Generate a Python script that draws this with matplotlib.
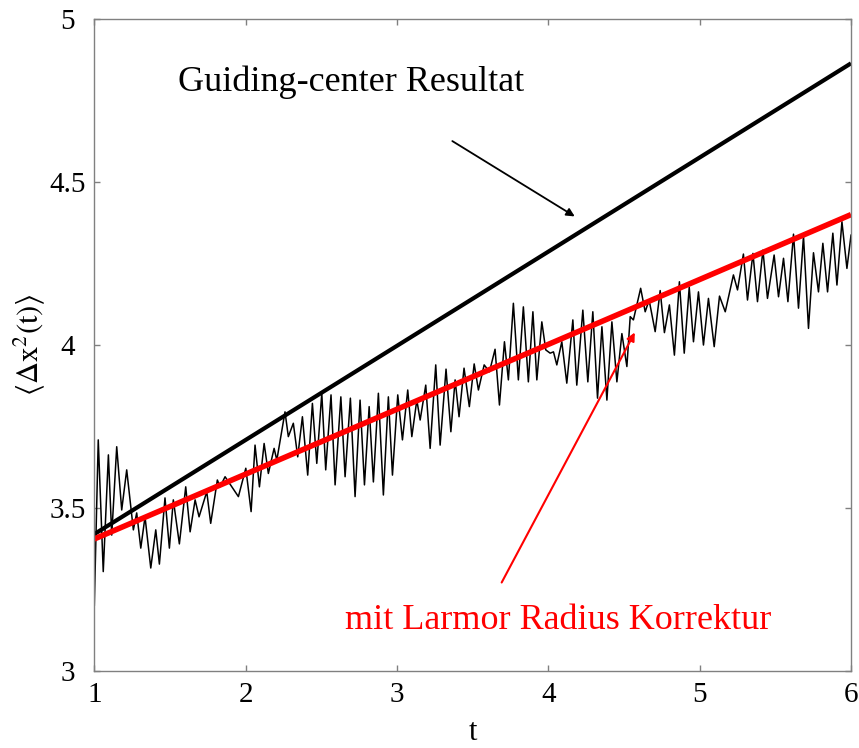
import matplotlib
matplotlib.use("Agg")
import matplotlib.pyplot as plt

# straight-line fits (end points)
t_fit = [1.0, 6.0]
gc_fit = [3.42, 4.864]       # guiding-center result
larmor_fit = [3.405, 4.40]   # with Larmor radius correction

# simulated <dx^2(t)>, local extrema
t_sim = [1.000, 1.026, 1.059, 1.093, 1.115, 1.148, 1.181, 1.214, 1.258, 1.280,
         1.307, 1.335, 1.373, 1.406, 1.430, 1.467, 1.496, 1.522, 1.562, 1.604,
         1.633, 1.666, 1.692, 1.743, 1.769, 1.813, 1.831, 1.853, 1.864, 1.952,
         2.001, 2.036, 2.062, 2.091, 2.122, 2.150, 2.188, 2.206, 2.260, 2.282,
         2.315, 2.344, 2.375, 2.410, 2.441, 2.470, 2.503, 2.529, 2.564, 2.591,
         2.629, 2.657, 2.692, 2.723, 2.756, 2.785, 2.816, 2.844, 2.877, 2.910,
         2.943, 2.970, 3.005, 3.036, 3.071, 3.098, 3.131, 3.153, 3.190, 3.219,
         3.256, 3.285, 3.324, 3.356, 3.384, 3.410, 3.443, 3.478, 3.510, 3.538,
         3.576, 3.611, 3.648, 3.677, 3.710, 3.736, 3.769, 3.802, 3.835, 3.868,
         3.898, 3.924, 3.957, 3.983, 4.012, 4.034, 4.056, 4.089, 4.122, 4.162,
         4.188, 4.228, 4.261, 4.294, 4.325, 4.354, 4.387, 4.420, 4.453, 4.486,
         4.519, 4.541, 4.562, 4.610, 4.640, 4.666, 4.706, 4.739, 4.767, 4.800,
         4.833, 4.866, 4.898, 4.931, 4.959, 4.992, 5.025, 5.058, 5.096, 5.131,
         5.169, 5.223, 5.250, 5.289, 5.316, 5.352, 5.382, 5.418, 5.448, 5.492,
         5.521, 5.554, 5.583, 5.620, 5.653, 5.686, 5.719, 5.752, 5.785, 5.814,
         5.845, 5.880, 5.907, 5.940, 5.973, 6.000]
dx2_sim = [3.202, 3.709, 3.305, 3.663, 3.417, 3.688, 3.494, 3.617, 3.433, 3.485,
           3.377, 3.473, 3.316, 3.433, 3.328, 3.531, 3.377, 3.525, 3.390, 3.565,
           3.427, 3.525, 3.473, 3.550, 3.453, 3.586, 3.565, 3.586, 3.596, 3.535,
           3.622, 3.489, 3.693, 3.565, 3.698, 3.606, 3.683, 3.647, 3.795, 3.719,
           3.760, 3.657, 3.780, 3.601, 3.821, 3.637, 3.852, 3.617, 3.847, 3.571,
           3.841, 3.596, 3.837, 3.535, 3.831, 3.571, 3.811, 3.580, 3.852, 3.540,
           3.841, 3.601, 3.847, 3.709, 3.862, 3.719, 3.831, 3.770, 3.877, 3.683,
           3.939, 3.693, 3.926, 3.734, 3.893, 3.780, 3.929, 3.811, 3.942, 3.862,
           3.939, 3.918, 3.987, 3.816, 4.010, 3.893, 4.128, 3.893, 4.117, 3.887,
           4.102, 3.893, 4.071, 3.985, 3.975, 3.979, 3.939, 4.010, 3.883, 4.077,
           3.877, 4.107, 3.887, 4.102, 3.837, 4.056, 3.831, 4.071, 3.887, 4.035,
           3.934, 4.087, 4.077, 4.174, 4.102, 4.138, 4.041, 4.167, 4.038, 4.123,
           3.969, 4.194, 3.975, 4.177, 4.010, 4.163, 4.000, 4.143, 3.995, 4.150,
           4.102, 4.215, 4.169, 4.279, 4.138, 4.281, 4.133, 4.291, 4.143, 4.276,
           4.148, 4.266, 4.133, 4.340, 4.113, 4.334, 4.051, 4.283, 4.163, 4.312,
           4.163, 4.343, 4.184, 4.378, 4.235, 4.337]

x_ticks = [1, 2, 3, 4, 5, 6]
y_ticks = [3, 3.5, 4, 4.5, 5]
y_ticklabels = ['3', '3.5', '4', '4.5', '5']

plt.rcParams['font.family'] = ['Liberation Serif', 'DejaVu Serif']
plt.rcParams['mathtext.fontset'] = 'stix'

fig = plt.figure(figsize=(8.59, 7.48), dpi=100)
ax = fig.add_axes([0.1098, 0.1029, 0.8809, 0.8717])

ax.plot(t_sim, dx2_sim, color='black', lw=1.1, solid_joinstyle='round')
ax.plot(t_fit, gc_fit, color='black', lw=3.0, solid_capstyle='butt')
ax.plot(t_fit, larmor_fit, color='#ff0000', lw=4.0, solid_capstyle='butt')

# annotations
ax.text(2.70, 4.805, "Guiding-center Resultat", fontsize=26,
        ha='center', va='center', color='black')
ax.annotate("", xy=(4.19, 4.39), xytext=(3.35, 4.63),
            arrowprops=dict(arrowstyle='-|>', color='black', lw=1.3,
                            mutation_scale=12))
ax.text(4.065, 3.156, "mit Larmor Radius Korrektur", fontsize=26,
        ha='center', va='center', color='#ff0000')
ax.annotate("", xy=(4.58, 4.046), xytext=(3.683, 3.264),
            arrowprops=dict(arrowstyle='-|>', color='#ff0000', lw=1.5,
                            mutation_scale=12))

ax.set_xlim(1, 6)
ax.set_ylim(3, 5)
ax.set_xticks(x_ticks)
ax.set_xticklabels([str(v) for v in x_ticks])
ax.set_yticks(y_ticks)
ax.set_yticklabels(y_ticklabels, ha='center')
ax.tick_params(direction='in', length=4, width=1, color='#808080',
               top=True, right=True, labelsize=21)
ax.tick_params(axis='y', pad=19)
ax.tick_params(axis='x', pad=8)
for sp in ax.spines.values():
    sp.set_color('#808080')
    sp.set_linewidth(1.0)

ax.set_xlabel("t", fontsize=22)
ax.xaxis.set_label_coords(0.5, -0.072)
ax.set_ylabel(r"$\langle\Delta\mathrm{x}^2\mathrm{(t)}\rangle$", fontsize=22)
ax.yaxis.set_label_coords(-0.0625, 0.5)

fig.savefig("out.png", dpi=100)
